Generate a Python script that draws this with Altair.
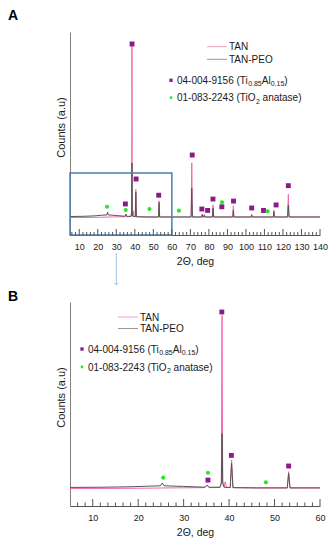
import altair as alt
import pandas as pd

# ---------------- data ----------------
# TAN pattern (pink), 2theta in deg, intensity in arbitrary units (0-100 of axis height)
tan_x = [5, 12, 20, 28, 34.7, 35.15, 35.6, 38.0, 38.3, 38.45, 38.6, 38.9, 39.15, 39.4,
         40.25, 40.55, 40.85, 46, 52.8, 53.1, 53.4, 60, 63, 70.4, 70.75, 71.1,
         76.1, 76.4, 76.7, 77.2, 77.5, 77.8, 81.9, 82.25, 82.6, 92.9, 93.2, 93.5,
         102.8, 103.1, 103.4, 114.8, 115.1, 115.4, 122.5, 122.9, 123.3, 140]
tan_y = [8.6, 8.6, 8.7, 8.9, 9.0, 10.3, 9.0, 9.1, 12, 93.5, 12, 9.4, 11.9, 9.2,
         9.0, 22.5, 9.0, 8.8, 8.8, 16.8, 8.8, 8.8, 8.8, 8.8, 35.5, 8.8,
         8.8, 10.3, 8.8, 8.8, 10.0, 8.8, 8.8, 14.8, 8.8, 8.8, 14.4, 8.8,
         8.8, 10.3, 8.8, 8.8, 12.3, 8.8, 8.8, 20.2, 8.8, 8.8]

# TAN-PEO pattern (gray)
peo_x = [5, 12, 18, 22, 24.9, 25.3, 25.7, 30, 34.7, 35.15, 35.6, 38.0, 38.3, 38.45, 38.6, 38.9,
         40.25, 40.55, 40.85, 46, 52.8, 53.1, 53.4, 60, 70.4, 70.75, 71.1,
         76.1, 76.4, 76.7, 77.2, 77.5, 77.8, 81.9, 82.25, 82.6, 92.9, 93.2, 93.5,
         102.8, 103.1, 103.4, 114.8, 115.1, 115.4, 122.5, 122.9, 123.3, 140]
peo_y = [9.1, 9.2, 9.4, 9.7, 9.9, 11.3, 9.9, 9.6, 9.2, 10.2, 9.2, 9.2, 11, 35.5, 11, 9.2,
         9.0, 21.0, 9.0, 8.9, 8.9, 16.0, 8.9, 8.9, 8.9, 23.0, 8.9,
         8.9, 10.0, 8.9, 8.9, 9.8, 8.9, 8.9, 13.3, 8.9, 8.9, 12.3, 8.9,
         8.9, 9.8, 8.9, 8.9, 11.5, 8.9, 8.9, 14.8, 8.9, 8.9]

# phase markers, panel A
sqA_x = [34.9, 38.5, 40.7, 52.9, 71.0, 76.2, 79.3, 82.2, 87.0, 93.3, 103.1, 109.5, 116.3, 122.9]
sqA_y = [15.3, 94.1, 27.6, 19.6, 39.4, 12.8, 12.1, 17.7, 13.9, 16.7, 13.3, 12.1, 14.8, 24.3]
grA_x = [25.0, 35.1, 47.9, 63.8, 87.1, 111.7]
grA_y = [13.9, 12.3, 12.8, 12.0, 16.1, 11.7]

# phase markers, panel B
sqB_x = [35.35, 38.4, 40.5, 53.1]
sqB_y = [12.7, 95.1, 24.8, 19.6]
grB_x = [25.5, 35.35, 48.1]
grB_y = [13.9, 16.3, 11.6]

# zoom box in panel A and arrow position
box_x = [5, 60]
box_y = [0, 30.5]
arrow_x = [30]

# tick labels
labelsA = [10, 20, 30, 40, 50, 60, 70, 80, 90, 100, 110, 120, 130, 140]
labelsB = [10, 20, 30, 40, 50, 60]
minorA = [v for v in range(6, 140, 2) if v % 10 != 0]
minorB = [5 + k * 5 / 3 for k in range(1, 33) if 5 + k * 5 / 3 < 60]
minorB = [v for v in minorB if abs(v / 10 - round(v / 10)) > 0.01]

series_names = ["TAN", "TAN-PEO"]
phase_names = ["04-004-9156", "01-083-2243"]

# ---------------- styling ----------------
FONT = "Liberation Sans"
PINK = "#F06BAA"
GRAY = "#555555"
PURPLE = "#8E1A8A"
GREEN = "#2BE32B"
TXT = "#1a1a1a"
BLUE = "#4A7EAE"
ARROW = "#9CC0E4"

W_EM = {"0": .556, "1": .556, "2": .556, "3": .556, "4": .556, "5": .556, "6": .556,
        "7": .556, "8": .556, "9": .556, "-": .333, " ": .278, "(": .333, ")": .333,
        "T": .611, "i": .222, "A": .667, "l": .222, "O": .778, ".": .278, "a": .556,
        "n": .556, "t": .278, "s": .5, "e": .556}


def tw(s, fs):
    return sum(W_EM.get(c, .556) for c in s) * fs


one = pd.DataFrame({"k": [0]})
tan_df = pd.DataFrame({"x": tan_x, "y": tan_y})
peo_df = pd.DataFrame({"x": peo_x, "y": peo_y})


def text_layer(t, x, y, fs, weight="normal", color=TXT):
    return alt.Chart(one).mark_text(text=t, font=FONT, fontSize=fs, align="left",
                                    baseline="alphabetic", color=color,
                                    fontWeight=weight).encode(
        x=alt.value(x), y=alt.value(y))


def rich(pieces, x0, yb):
    out = []
    x = x0
    for t, fs, dy in pieces:
        s = t.lstrip(" ")
        x += tw(t[:len(t) - len(s)], fs)
        out.append(text_layer(s, x, yb + dy, fs))
        x += tw(s, fs)
    return out


def panel(W, H, xmax, labels, minor, mlen, nlen, sqx, sqy, grx, gry,
          letter, letter_y, lx, ly, mx, my, zoom_box=False):
    xs = alt.Scale(domain=[5, xmax], nice=False, zero=False)
    ys = alt.Scale(domain=[0, 100], nice=False, zero=False)
    xaxis = alt.Axis(values=labels, format="d", labelFont=FONT, labelFontSize=9,
                     labelColor=TXT, labelPadding=7, ticks=False, tickSize=0,
                     domainColor=GRAY, domainWidth=1, grid=False, labelFlush=False,
                     title="2Θ, deg", titleFont=FONT, titleFontSize=10.5,
                     titleFontWeight="normal", titleColor=TXT, titlePadding=5)
    yaxis = alt.Axis(labels=False, ticks=False, grid=False, domainColor="#808080",
                     title="Counts (a.u)", titleFont=FONT, titleFontSize=11,
                     titleFontWeight="normal", titleColor=TXT, titlePadding=4, titleY=95)

    def X(f):
        return alt.X(f, scale=xs, axis=xaxis)

    def Y(f):
        return alt.Y(f, scale=ys, axis=yaxis)

    layers = []
    layers.append(alt.Chart(tan_df).mark_line(color=PINK, strokeWidth=1, clip=True).encode(
        x=X("x:Q"), y=Y("y:Q")))
    layers.append(alt.Chart(peo_df).mark_line(color=GRAY, strokeWidth=1, clip=True).encode(
        x=X("x:Q"), y=Y("y:Q")))

    if zoom_box:
        bdf = pd.DataFrame({"x": [box_x[0]], "x2": [box_x[1]], "y": [box_y[0]], "y2": [box_y[1]]})
        layers.append(alt.Chart(bdf).mark_rect(fillOpacity=0, stroke=BLUE, strokeWidth=1.5).encode(
            x=X("x:Q"), x2="x2:Q", y=Y("y:Q"), y2="y2:Q"))
        adf = pd.DataFrame({"x": arrow_x})
        layers.append(alt.Chart(adf).mark_rule(color=ARROW, strokeWidth=1).encode(
            x=X("x:Q"), y=alt.value(H + 18), y2=alt.value(H + 49)))
        layers.append(alt.Chart(adf).mark_point(shape="M-1,-1L0,0L1,-1", filled=False,
                                                size=18, color=ARROW, strokeWidth=1,
                                                opacity=1).encode(
            x=X("x:Q"), y=alt.value(H + 50)))

    # inward ticks on the x axis
    layers.append(alt.Chart(pd.DataFrame({"x": labels})).mark_rule(color=GRAY, strokeWidth=1).encode(
        x=X("x:Q"), y=alt.value(H), y2=alt.value(H - mlen)))
    layers.append(alt.Chart(pd.DataFrame({"x": minor})).mark_rule(color=GRAY, strokeWidth=1).encode(
        x=X("x:Q"), y=alt.value(H), y2=alt.value(H - nlen)))

    # phase markers
    layers.append(alt.Chart(pd.DataFrame({"x": sqx, "y": sqy})).mark_square(
        size=24, color=PURPLE, opacity=1).encode(x=X("x:Q"), y=Y("y:Q")))
    layers.append(alt.Chart(pd.DataFrame({"x": grx, "y": gry})).mark_circle(
        size=17, color=GREEN, opacity=1).encode(x=X("x:Q"), y=Y("y:Q")))

    # legend: series lines
    for (name, col), yy in zip([(series_names[0], "#F7A0C6"), (series_names[1], "#9A9A9A")], ly):
        layers.append(alt.Chart(one).mark_rule(color=col, strokeWidth=1).encode(
            x=alt.value(lx), x2=alt.value(lx + 20), y=alt.value(yy)))
        layers.append(text_layer(name, lx + 22, yy + 3.6, 10))
    # legend: phases
    layers.append(alt.Chart(one).mark_square(size=11, color=PURPLE, opacity=1).encode(
        x=alt.value(mx), y=alt.value(my[0])))
    layers.append(alt.Chart(one).mark_circle(size=8, color=GREEN, opacity=1).encode(
        x=alt.value(mx), y=alt.value(my[1])))
    layers += rich([(phase_names[0] + " (Ti", 10, 0), ("0.85", 7, 2.5), ("Al", 10, 0),
                    ("0.15", 7, 2.5), (")", 10, 0)], mx + 6, my[0] + 3.6)
    layers += rich([(phase_names[1] + " (TiO", 10, 0), ("2", 7, 2.5), (" anatase)", 10, 0)],
                   mx + 6, my[1] + 3.6)

    # panel letter
    layers.append(text_layer(letter, -62, letter_y, 14, weight="bold", color="black"))

    return alt.layer(*layers).properties(width=W, height=H)


A = panel(250, 203, 140, labelsA, minorA, 6, 3, sqA_x, sqA_y, grA_x, grA_y,
          "A", -12, 137, [14.7, 27.3], 101, [48.3, 65.7], zoom_box=True)
B = panel(250, 204, 60, labelsB, minorB, 7, 3.5, sqB_x, sqB_y, grB_x, grB_y,
          "B", -1, 48, [15, 26.5], 12, [47, 65])

chart = alt.vconcat(A, B, spacing=67, bounds="flush").properties(
    padding={"left": 0, "top": 1, "right": 0, "bottom": 0}
).configure_view(strokeWidth=0)

chart.save("out.html", embed_options={"renderer": "svg", "actions": False})
